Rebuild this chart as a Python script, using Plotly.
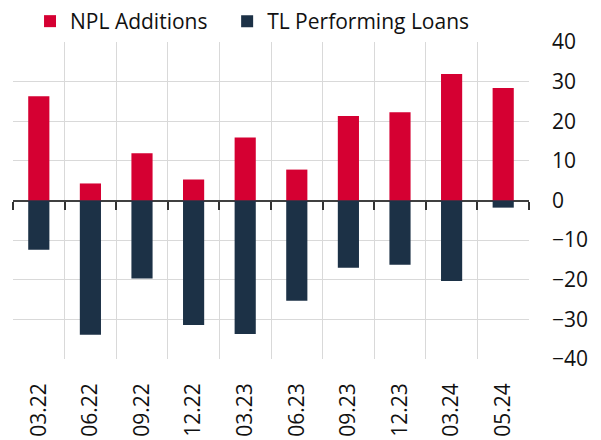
import plotly.graph_objects as go

categories = ["03.22", "06.22", "09.22", "12.22", "03.23", "06.23", "09.23", "12.23", "03.24", "05.24"]
npl_additions = [26.3, 4.3, 11.9, 5.3, 15.9, 7.8, 21.3, 22.3, 31.9, 28.4]
tl_performing = [-12.4, -33.9, -19.7, -31.4, -33.7, -25.3, -17.0, -16.2, -20.3, -1.8]
y_ticks = [-40, -30, -20, -10, 0, 10, 20, 30, 40]

RED = "#d50032"
NAVY = "#1c3146"
FONT = "Open Sans"

fig = go.Figure()
fig.add_trace(go.Bar(x=categories, y=npl_additions, name="NPL Additions", legend="legend",
                     marker=dict(color=RED, line=dict(width=0)), width=0.41))
fig.add_trace(go.Bar(x=categories, y=tl_performing, name="TL Performing Loans", legend="legend2",
                     marker=dict(color=NAVY, line=dict(width=0)), width=0.41))
# invisible helper trace for the zero-line axis with boundary ticks
fig.add_trace(go.Scatter(x=categories, y=[0] * len(categories), xaxis="x2", yaxis="y",
                         mode="markers", marker=dict(opacity=0), showlegend=False,
                         hoverinfo="skip"))

leg_common = dict(orientation="h", y=1.0, yanchor="bottom", xanchor="left",
                  font=dict(size=21), bgcolor="rgba(0,0,0,0)", itemwidth=30)

fig.update_layout(
    width=593, height=432,
    barmode="relative",
    paper_bgcolor="white", plot_bgcolor="white",
    margin=dict(l=5, r=72, t=34, b=81, autoexpand=False),
    font=dict(family=FONT, size=21, color="#111111"),
    legend=dict(x=0.033, **leg_common),
    legend2=dict(x=0.415, **leg_common),
    xaxis=dict(type="category", range=[-0.5, 9.5], tickson="boundaries",
               showgrid=True, gridcolor="#d9d9d9", gridwidth=1,
               ticks="", tickangle=-90, ticklabelstandoff=19, automargin=False,
               tickfont=dict(size=21), showline=False, zeroline=False),
    xaxis2=dict(type="category", range=[-0.5, 9.5], overlaying="x", anchor="free",
                position=0.5, tickson="boundaries", ticks="outside", ticklen=8,
                tickwidth=1.5, tickcolor="#333", showticklabels=False, automargin=False,
                showgrid=False, showline=False, zeroline=False),
    yaxis=dict(range=[-40, 40], tickvals=y_ticks, side="right",
               showgrid=True, gridcolor="#d9d9d9", gridwidth=1,
               zeroline=True, zerolinecolor="#404040", zerolinewidth=2,
               ticks="", ticklabelstandoff=22, tickfont=dict(size=21), automargin=False,
               showline=False),
)

fig.write_html("out.html")
